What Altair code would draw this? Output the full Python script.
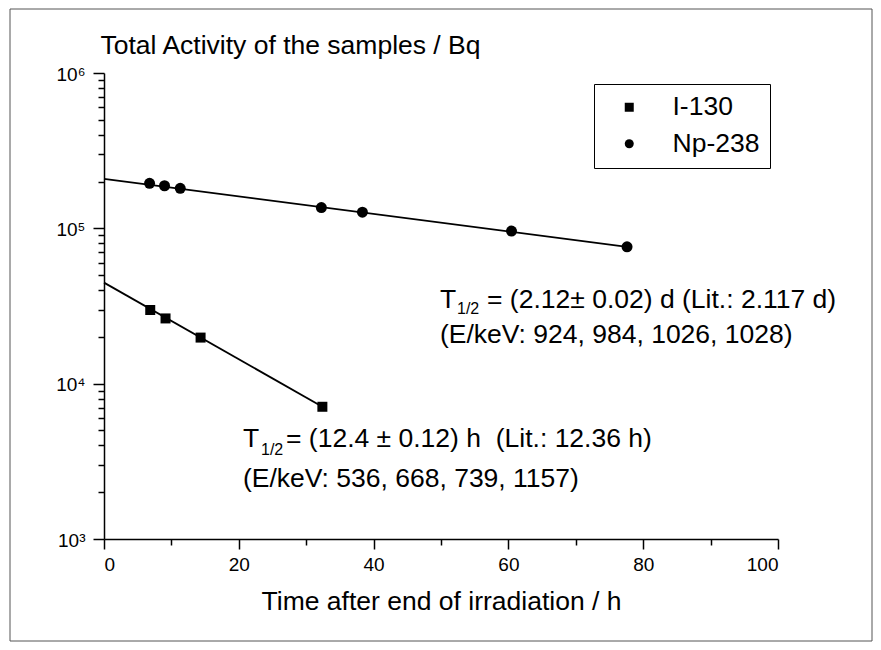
import altair as alt
import pandas as pd

# ---- data ----
series = ["I-130", "Np-238"]
i130_t = [6.86, 9.13, 14.33, 32.4]
i130_A = [2.98e4, 2.63e4, 1.98e4, 7.1e3]
np238_t = [6.76, 8.98, 11.31, 32.25, 38.34, 60.46, 77.6]
np238_A = [1.95e5, 1.88e5, 1.81e5, 1.36e5, 1.27e5, 9.6e4, 7.6e4]
fit_i130_t = [0, 32.4]
fit_i130_A = [4.47e4, 7.1e3]
fit_np238_t = [0, 77.6]
fit_np238_A = [2.08e5, 7.6e4]

x_major = [0, 20, 40, 60, 80, 100]
x_minor = [10, 30, 50, 70, 90]
y_major = [1e3, 1e4, 1e5, 1e6]
y_minor = [2e3, 3e3, 4e3, 5e3, 6e3, 7e3, 8e3, 9e3,
           2e4, 3e4, 4e4, 5e4, 6e4, 7e4, 8e4, 9e4,
           2e5, 3e5, 4e5, 5e5, 6e5, 7e5, 8e5, 9e5]

x_title = "Time after end of irradiation / h"
y_title = "Total Activity of the samples / Bq"
np_rest = "= (2.12\u00b1 0.02) d (Lit.: 2.117 d)"
np_line2 = "(E/keV: 924, 984, 1026, 1028)"
i_rest = "= (12.4 \u00b1 0.12) h\u00a0 (Lit.: 12.36 h)"
i_line2 = "(E/keV: 536, 668, 739, 1157)"

font = "Liberation Sans"
W, H = 674, 466

pts = pd.DataFrame({
    "t": i130_t + np238_t,
    "A": i130_A + np238_A,
    "iso": [series[0]] * len(i130_t) + [series[1]] * len(np238_t),
})
fits = pd.DataFrame({
    "t": fit_i130_t + fit_np238_t,
    "A": fit_i130_A + fit_np238_A,
    "iso": [series[0]] * len(fit_i130_t) + [series[1]] * len(fit_np238_t),
})

xscale = alt.Scale(domain=[0, 100], nice=False, zero=False)
yscale = alt.Scale(type="log", domain=[1e3, 1e6], nice=False)

ylab = ("datum.value == 1000 ? '10\u00b3' : datum.value == 10000 ? '10\u2074' : "
        "datum.value == 100000 ? '10\u2075' : '10\u2076'")

x_axis_major = alt.Axis(values=x_major, orient="bottom", tickSize=10, labelFontSize=19,
                        labelPadding=6, format="d", title=x_title, titleFontSize=26.5,
                        titleFontWeight="normal", titleBaseline="alphabetic", titleY=70,
                        grid=False)
y_axis_major = alt.Axis(values=y_major, orient="left", tickSize=11, labelExpr=ylab,
                        labelFontSize=19, labelPadding=8, labelOffset=1, title=y_title,
                        titleAngle=0, titleAlign="left", titleBaseline="alphabetic",
                        titleX=-4, titleY=-20, titleFontSize=26.5, titleFontWeight="normal",
                        grid=False)
x_axis_minor = alt.Axis(values=x_minor, orient="bottom", tickSize=6, labels=False,
                        domain=False, title=None, grid=False)
y_axis_minor = alt.Axis(values=y_minor, orient="left", tickSize=6, labels=False,
                        domain=False, title=None, grid=False)

lines = alt.Chart(fits).mark_line(color="black", strokeWidth=1.8).encode(
    x=alt.X("t:Q", scale=xscale, axis=x_axis_major),
    y=alt.Y("A:Q", scale=yscale, axis=y_axis_major),
    detail="iso:N",
)

points = alt.Chart(pts).mark_point(filled=True, color="black", opacity=1).encode(
    x=alt.X("t:Q", scale=xscale, axis=x_axis_minor),
    y=alt.Y("A:Q", scale=yscale, axis=y_axis_minor),
    shape=alt.Shape("iso:N", scale=alt.Scale(domain=series, range=["square", "circle"]),
                    legend=alt.Legend(title=None, orient="none", legendX=490, legendY=11,
                                      padding=10, strokeColor="black", fillColor="white",
                                      symbolOffset=12, labelOffset=30, labelFontSize=26.5,
                                      labelFont=font, labelColor="black", rowPadding=9.5,
                                      symbolSize=81, symbolFillColor="black",
                                      symbolStrokeColor="black", symbolStrokeWidth=0,
                                      cornerRadius=0, labelLimit=300)),
    size=alt.condition("datum.iso == 'I-130'", alt.value(100), alt.value(121)),
)


def txt(s, x, y, size):
    return alt.Chart(alt.Data(values=[{}])).mark_text(
        text=s, x=x, y=y, align="left", baseline="alphabetic", fontSize=size,
        font=font, color="black")


texts = [
    txt("T", 336, 235, 26.5), txt("1/2", 353, 241, 16), txt(np_rest, 383, 235, 26.5),
    txt(np_line2, 336, 270, 26.5),
    txt("T", 139, 374, 26.5), txt("1/2", 157, 382, 16), txt(i_rest, 182, 374, 26.5),
    txt(i_line2, 139, 414, 26.5),
]

frame = alt.Chart(alt.Data(values=[{}])).mark_rect(
    fill="white", fillOpacity=0, stroke="#555555", strokeWidth=1).encode(
    x=alt.value(-94), x2=alt.value(768), y=alt.value(-64), y2=alt.value(568))

chart = alt.layer(frame, lines, points, *texts).resolve_axis(
    x="independent", y="independent"
).properties(
    width=W, height=H,
    autosize=alt.AutoSizeParams(type="none"),
    padding={"left": 96, "top": 65, "right": 95, "bottom": 103},
    background="white",
).configure_view(stroke=None).configure_axis(
    domainColor="black", tickColor="black", labelColor="black", titleColor="black",
    labelFont=font, titleFont=font, domainWidth=1.5, tickWidth=1.5,
)

chart.save("out.html", embed_options={"renderer": "svg", "actions": False})
